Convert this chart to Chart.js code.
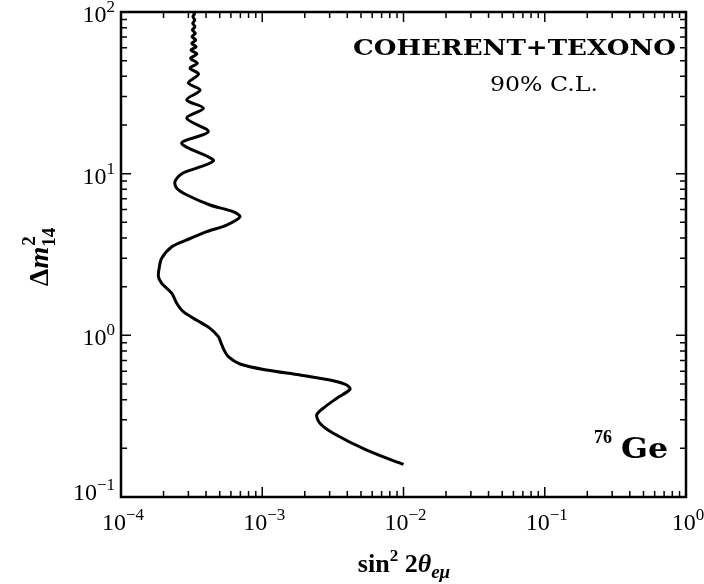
<!DOCTYPE html>
<html>
<head>
<meta charset="utf-8">
<script src="https://cdn.jsdelivr.net/npm/chart.js@4.4.0/dist/chart.umd.min.js"></script>
<style>
  html, body { margin: 0; padding: 0; background: #fff; }
</style>
</head>
<body>
<canvas id="myChart" width="704" height="584"></canvas>
<script>
// exclusion contour (top to bottom along the curve)
const sin2Theta = [3.25e-4, 3.31e-4, 3.23e-4, 3.33e-4, 3.22e-4, 3.34e-4, 3.20e-4, 3.36e-4, 3.18e-4, 3.38e-4,
  3.17e-4, 3.40e-4, 3.13e-4, 3.44e-4, 3.11e-4, 3.47e-4, 3.08e-4, 3.54e-4, 3.00e-4, 3.63e-4,
  2.92e-4, 3.83e-4, 2.92e-4, 4.15e-4, 2.69e-4, 4.50e-4, 3.63e-4, 2.75e-4, 2.41e-4, 2.49e-4,
  2.93e-4, 4.27e-4, 6.21e-4, 6.96e-4, 5.60e-4, 4.04e-4, 2.92e-4, 2.29e-4, 1.94e-4, 1.87e-4,
  1.84e-4, 1.94e-4, 2.29e-4, 2.48e-4, 2.76e-4, 3.44e-4, 4.27e-4, 4.89e-4, 5.11e-4, 5.36e-4,
  5.75e-4, 6.96e-4, 1.075e-3, 1.85e-3, 3.18e-3, 3.96e-3, 4.18e-3, 3.37e-3, 2.70e-3, 2.43e-3,
  2.56e-3, 3.18e-3, 5.49e-3, 1.0e-2];
const dm2 = [100, 97.2, 93.5, 89.2, 85.1, 81.1, 77.4, 73.8, 70.3, 67.1,
  64.0, 61.0, 58.2, 55.0, 51.7, 48.2, 44.9, 41.3, 36.4, 32.9,
  28.6, 25.4, 22.0, 18.2, 15.4, 12.15, 11.0, 10.1, 8.92, 8.10,
  7.38, 6.40, 5.82, 5.42, 4.81, 4.38, 3.89, 3.53, 3.00, 2.66,
  2.31, 2.10, 1.82, 1.58, 1.40, 1.24, 1.105, 0.981, 0.897, 0.812,
  0.738, 0.665, 0.610, 0.568, 0.524, 0.493, 0.464, 0.408, 0.354, 0.322,
  0.286, 0.248, 0.195, 0.159];

const xTicks = [1e-4, 1e-3, 1e-2, 1e-1, 1];
const xTickExp = ["\u22124", "\u22123", "\u22122", "\u22121", "0"];
const yTicks = [1e-1, 1, 10, 100];
const yTickExp = ["\u22121", "0", "1", "2"];

const SERIF = '"Liberation Serif", "DejaVu Serif", serif';
const BSERIF = '"DejaVu Serif", "Liberation Serif", serif';

// draw "10^exp"; align is where x sits: 'center' or 'right'
function drawPow(ctx, x, baseY, exp, align) {
  ctx.font = "24px " + SERIF;
  const wb = ctx.measureText("10").width;
  ctx.font = "17px " + SERIF;
  const we = ctx.measureText(exp).width;
  const total = wb + we;
  let x0 = align === "center" ? x - total / 2 : x - total;
  ctx.textAlign = "left";
  ctx.textBaseline = "alphabetic";
  ctx.font = "24px " + SERIF;
  ctx.fillText("10", x0, baseY);
  ctx.font = "17px " + SERIF;
  ctx.fillText(exp, x0 + wb, baseY - 10);
}

// stretch text horizontally to a target width
function fitText(ctx, text, x0, y, width, font) {
  ctx.font = font;
  const w = ctx.measureText(text).width;
  ctx.save();
  ctx.translate(x0, y);
  ctx.scale(width / w, 1);
  ctx.textAlign = "left";
  ctx.fillText(text, 0, 0);
  ctx.restore();
}

const framePlugin = {
  id: "frame",
  afterDraw(chart) {
    const ctx = chart.ctx;
    const a = chart.chartArea;
    const xs = chart.scales.x, ys = chart.scales.y;
    ctx.save();
    ctx.strokeStyle = "#000";
    ctx.fillStyle = "#000";

    // inward ticks on all four sides
    ctx.lineWidth = 1.5;
    ctx.beginPath();
    for (let k = -4; k < 0; k++) {
      for (let m = 1; m <= 9; m++) {
        const px = xs.getPixelForValue(m * Math.pow(10, k));
        const len = m === 1 ? 10 : 6;
        ctx.moveTo(px, a.bottom); ctx.lineTo(px, a.bottom - len);
        ctx.moveTo(px, a.top); ctx.lineTo(px, a.top + len);
      }
    }
    for (let k = -1; k < 2; k++) {
      for (let m = 1; m <= 9; m++) {
        const py = ys.getPixelForValue(m * Math.pow(10, k));
        const len = m === 1 ? 10 : 6;
        ctx.moveTo(a.left, py); ctx.lineTo(a.left + len, py);
        ctx.moveTo(a.right, py); ctx.lineTo(a.right - len, py);
      }
    }
    ctx.stroke();

    ctx.lineWidth = 2.5;
    ctx.strokeRect(a.left, a.top, a.right - a.left, a.bottom - a.top);

    // tick labels
    xTicks.forEach((v, i) => {
      drawPow(ctx, xs.getPixelForValue(v) + 2, a.bottom + 33, xTickExp[i], "center");
    });
    yTicks.forEach((v, i) => {
      const py = ys.getPixelForValue(v);
      drawPow(ctx, a.left - 6, i === 0 ? py + 3 : py + 10, yTickExp[i], "right");
    });

    // annotations
    fitText(ctx, "COHERENT+TEXONO", 353, 55, 323, "bold 22px " + BSERIF);
    fitText(ctx, "90% C.L.", 490, 91, 108, "20px " + BSERIF);

    ctx.font = "bold 18px " + SERIF;
    ctx.fillText("76", 594, 443);
    fitText(ctx, "Ge", 621, 458, 47, "bold 27px " + BSERIF);

    // x title: sin^2 2theta_emu
    const xt = [
      ["sin", "bold 26px " + SERIF, 0],
      ["2", "bold 17px " + SERIF, -11],
      [" 2", "bold 26px " + SERIF, 0],
      ["\u03b8", "bold italic 26px " + SERIF, 0],
      ["e\u03bc", "bold italic 19px " + SERIF, 6]
    ];
    let tw = 0;
    xt.forEach(p => { ctx.font = p[1]; tw += ctx.measureText(p[0]).width; });
    let cx = 404 - tw / 2;
    xt.forEach(p => {
      ctx.font = p[1];
      ctx.fillText(p[0], cx, 572 + p[2]);
      cx += ctx.measureText(p[0]).width;
    });

    // y title: Delta m^2_14, rotated
    ctx.save();
    ctx.translate(48, 257);
    ctx.rotate(-Math.PI / 2);
    const yt = [
      ["\u0394", "bold 28px " + SERIF],
      ["m", "bold italic 28px " + SERIF]
    ];
    let yw = 0;
    yt.forEach(p => { ctx.font = p[1]; yw += ctx.measureText(p[0]).width; });
    ctx.font = "bold 19px " + SERIF;
    yw += ctx.measureText("14").width;
    let cy = -yw / 2;
    yt.forEach(p => {
      ctx.font = p[1];
      ctx.fillText(p[0], cy, 0);
      cy += ctx.measureText(p[0]).width;
    });
    ctx.font = "bold 19px " + SERIF;
    ctx.fillText("2", cy + 1, -13);
    ctx.fillText("14", cy, 7);
    ctx.restore();

    ctx.restore();
  }
};

const ctx = document.getElementById("myChart").getContext("2d");
const points = sin2Theta.map((v, i) => ({ x: v, y: dm2[i] }));

let myChart = new Chart(ctx, {
  type: "scatter",
  data: {
    datasets: [{
      label: "COHERENT+TEXONO",
      data: points,
      showLine: true,
      borderColor: "#000",
      backgroundColor: "#000",
      borderWidth: 3,
      pointRadius: 0,
      tension: 0.3,
      fill: false,
    }],
  },
  options: {
    responsive: false,
    animation: false,
    layout: {
      padding: { left: 121, right: 18, top: 12, bottom: 87 }
    },
    plugins: {
      legend: { display: false },
      tooltip: { enabled: false }
    },
    scales: {
      x: { type: "logarithmic", min: 1e-4, max: 1, display: false },
      y: { type: "logarithmic", min: 0.1, max: 100, display: false }
    }
  },
  plugins: [framePlugin]
});
</script>
</body>
</html>
